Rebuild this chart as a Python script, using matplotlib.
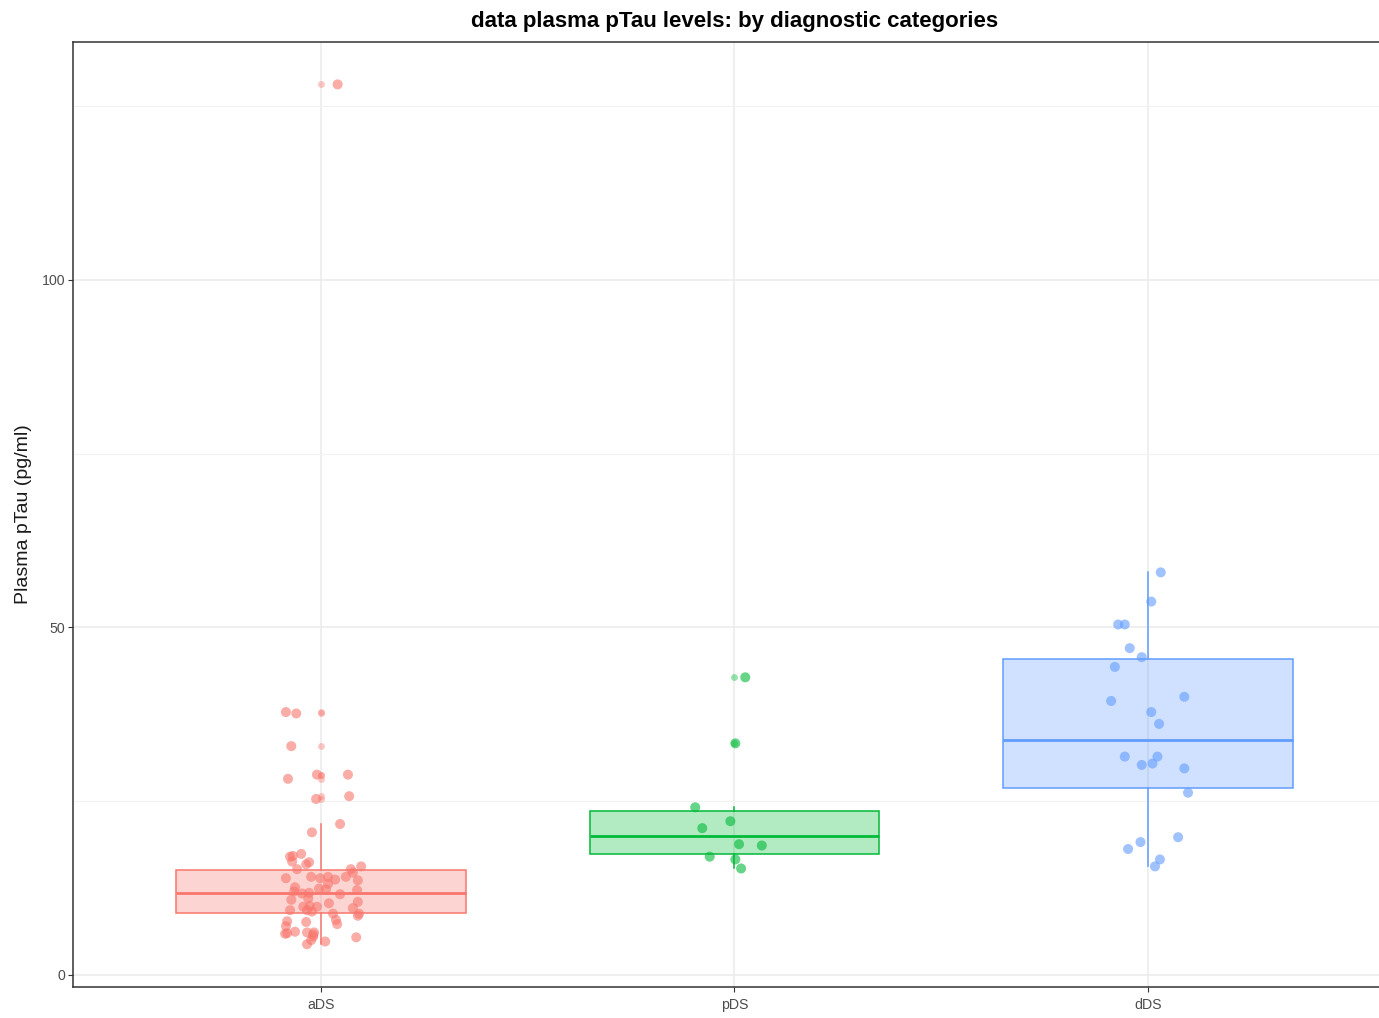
import numpy as np
import matplotlib.pyplot as plt
from matplotlib import font_manager
from matplotlib.colors import to_rgba

installed = {f.name for f in font_manager.fontManager.ttflist}
base_font = 'Liberation Sans' if 'Liberation Sans' in installed else 'DejaVu Sans'
plt.rcParams['font.family'] = [base_font, 'DejaVu Sans']

groups = ['aDS', 'pDS', 'dDS']
colors = ['#F8766D', '#00BA38', '#619CFF']

# pTau values (pg/ml) per group, with the horizontal jitter of each point
aDS_vals = [128.1, 37.8, 37.6, 32.9, 28.2, 28.8, 28.8, 25.3, 25.7, 21.7, 20.5,
            17.0, 17.1, 17.4, 16.3, 15.9, 16.2, 15.2, 15.6, 15.2, 14.7,
            13.9, 14.1, 13.9, 14.1, 13.7, 14.1, 13.6, 13.1, 12.6, 12.4, 12.3,
            12.2, 12.0, 11.7, 11.8, 11.6, 10.8, 11.0, 10.5, 10.3, 9.8, 9.9,
            9.8, 9.6, 9.3, 9.3, 9.1, 8.8, 8.5, 8.8, 7.9, 7.7, 7.6, 7.3, 7.0,
            6.0, 6.2, 6.1, 6.1, 5.9, 5.8, 5.5, 5.4, 5.0, 4.8, 4.4]
aDS_jit = [0.040, -0.085, -0.060, -0.072, -0.080, -0.010, 0.065, -0.012, 0.068, 0.046, -0.022,
           -0.075, -0.068, -0.048, -0.070, -0.036, -0.029, -0.058, 0.097, 0.072, 0.077,
           -0.085, -0.024, -0.002, 0.017, 0.034, 0.060, 0.089, 0.017, -0.063, -0.005, 0.012,
           0.087, -0.065, -0.046, -0.029, 0.046, -0.072, -0.031, 0.089, 0.019, -0.043, -0.027,
           -0.010, 0.077, -0.075, -0.034, -0.022, 0.092, 0.089, 0.029, 0.036, -0.082, -0.036,
           0.039, -0.085, -0.082, -0.063, -0.034, -0.017, -0.087, -0.019, -0.019, 0.085,
           -0.024, 0.010, -0.034]

pDS_vals = [42.8, 33.3, 24.1, 22.1, 21.1, 18.8, 18.6, 17.0, 16.6, 15.3]
pDS_jit = [0.026, 0.002, -0.095, -0.010, -0.078, 0.011, 0.066, -0.060, 0.002, 0.016]

dDS_vals = [57.9, 53.7, 50.4, 50.4, 47.0, 45.7, 44.3, 40.0, 39.4, 37.8, 36.1,
            31.4, 31.4, 30.2, 30.4, 29.7, 26.2, 19.8, 19.1, 18.1, 16.6, 15.6]
dDS_jit = [0.031, 0.008, -0.072, -0.056, -0.044, -0.015, -0.080, 0.088, -0.089, 0.008, 0.027,
           -0.056, 0.023, -0.015, 0.011, 0.088, 0.097, 0.073, -0.018, -0.048, 0.029, 0.017]

# box summaries: q1, median, q3, lower whisker, upper whisker
q1 = [8.9, 17.4, 26.9]
med = [11.8, 20.0, 33.8]
q3 = [15.1, 23.6, 45.5]
whislo = [4.4, 15.3, 15.6]
whishi = [21.7, 24.1, 57.9]

vals = [aDS_vals, pDS_vals, dDS_vals]
jits = [aDS_jit, pDS_jit, dDS_jit]

fig = plt.figure(figsize=(13.79, 10.18), dpi=100)
ax = fig.add_axes([73 / 1379, 31 / 1018, 1323 / 1379, 945 / 1018])

for i, g in enumerate(groups):
    pos = i + 1
    c = colors[i]
    v = np.array(vals[i])
    out = v[(v > whishi[i]) | (v < whislo[i])]
    st = dict(med=med[i], q1=q1[i], q3=q3[i], whislo=whislo[i], whishi=whishi[i],
              fliers=out, label=g)
    ax.bxp([st], positions=[pos], widths=0.7, patch_artist=True, showcaps=False,
           boxprops=dict(facecolor=to_rgba(c, 0.3), edgecolor=c, linewidth=1.1),
           whiskerprops=dict(color=c, linewidth=1.1),
           medianprops=dict(color=c, linewidth=2.0),
           flierprops=dict(marker='o', markersize=5, markerfacecolor=c,
                           markeredgecolor='none', alpha=0.4),
           zorder=2)
    ax.scatter(pos + np.array(jits[i]), v, s=52, color=c, alpha=0.6,
               edgecolors='none', zorder=3)

ax.set_xlim(0.4, 3.6)
ax.set_ylim(-1.75, 134.2)
ax.set_xticks([1, 2, 3])
ax.set_xticklabels(groups)
ax.set_yticks([0, 50, 100])
ax.set_yticks([25, 75, 125], minor=True)
ax.grid(which='major', color='#EBEBEB', linewidth=1.1, zorder=0)
ax.grid(which='minor', axis='y', color='#F2F2F2', linewidth=0.8, zorder=0)
ax.set_axisbelow(True)
ax.tick_params(axis='both', which='major', length=3.6, width=0.8, color='#333333',
               labelcolor='#4D4D4D', labelsize=10.2)
ax.tick_params(axis='x', which='major', pad=4)
ax.tick_params(axis='y', which='major', pad=2)
ax.tick_params(axis='y', which='minor', length=0)
for s in ax.spines.values():
    s.set_color('#333333')
    s.set_linewidth(1.1)

ax.set_ylabel('Plasma pTau (pg/ml)', fontsize=14, color='#1A1A1A', labelpad=7)
ax.set_title('data plasma pTau levels: by diagnostic categories',
             fontsize=16, fontweight='bold', pad=11)

fig.savefig('out.png', dpi=100)
